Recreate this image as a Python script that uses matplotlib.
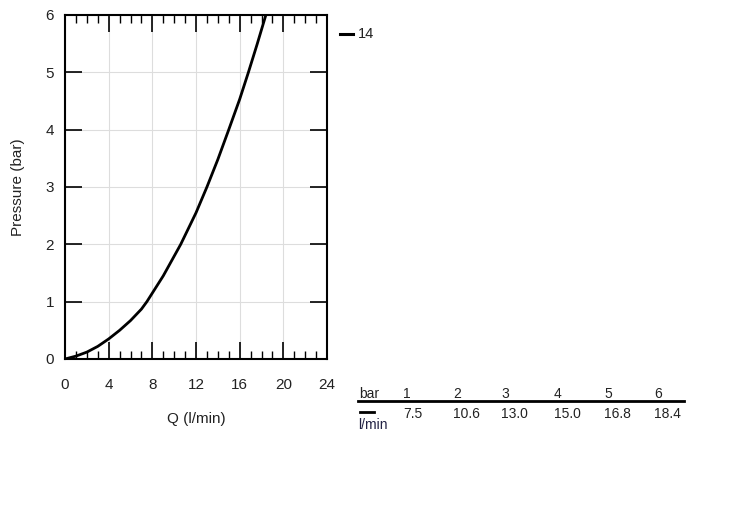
"""Pressure drop vs flow curve with a small value table."""

import matplotlib

matplotlib.use("Agg")

import matplotlib.pyplot as plt
from matplotlib.ticker import MultipleLocator

# curve (Q in l/min, pressure in bar)
flow = [0.0, 1.0, 2.0, 3.0, 4.0, 5.0, 6.0, 7.0, 7.5, 8.2, 9.0, 10.6, 12.0, 13.0, 14.0, 15.0, 16.0, 16.8, 17.6, 18.4]
pressure = [0.0, 0.05, 0.12, 0.22, 0.35, 0.50, 0.67, 0.87, 1.0, 1.21, 1.45, 2.0, 2.55, 3.0, 3.48, 4.0, 4.53, 5.0, 5.49, 6.0]

# table values
table_bar = ["1", "2", "3", "4", "5", "6"]
table_flow = ["7.5", "10.6", "13.0", "15.0", "16.8", "18.4"]
series_label = "14"

plt.rcParams["font.family"] = ["Liberation Sans", "DejaVu Sans"]
TEXT = "#222222"

fig = plt.figure(figsize=(7.3, 5.07), dpi=100)
ax = fig.add_axes([65 / 730, 1 - 359 / 507, (327 - 65) / 730, (359 - 15) / 507])

ax.plot(flow, pressure, color="black", lw=2.0, solid_joinstyle="round")

ax.set_xlim(0, 24)
ax.set_ylim(0, 6)
ax.xaxis.set_major_locator(MultipleLocator(4))
ax.xaxis.set_minor_locator(MultipleLocator(1))
ax.yaxis.set_major_locator(MultipleLocator(1))
ax.tick_params(which="major", direction="in", length=12, width=1.2, top=True, right=True,
               labelsize=11, labelcolor=TEXT)
ax.tick_params(axis="x", which="major", pad=14)
ax.tick_params(axis="y", which="major", pad=8)
ax.tick_params(which="minor", direction="in", length=6, width=1.0, top=True, right=False, left=False)
ax.tick_params(axis="x", which="minor", bottom=True, top=True)
ax.grid(which="major", color="#dddddd", lw=0.8)
for s in ax.spines.values():
    s.set_linewidth(1.5)

ax.set_xlabel("Q (l/min)", fontsize=11, color=TEXT, labelpad=14)
ax.set_ylabel("Pressure (bar)", fontsize=11, color=TEXT, labelpad=15)

# legend marker
fig.add_artist(plt.Line2D([340 / 730, 353 / 730], [1 - 34 / 507] * 2, color="black", lw=2.2))
fig.text(358 / 730, 1 - 34 / 507, series_label, fontsize=10.5, color=TEXT, va="center")

# value table
col_x = [403, 453, 501, 554, 604, 654]
fig.text(359 / 730, 1 - 394 / 507, "bar", fontsize=10, color=TEXT, va="center")
fig.add_artist(plt.Line2D([358 / 730, 684 / 730], [1 - 401 / 507] * 2, color="black", lw=2.0))
fig.add_artist(plt.Line2D([360 / 730, 374 / 730], [1 - 412 / 507] * 2, color="black", lw=2.0))
fig.text(358 / 730, 1 - 425 / 507, "l/min", fontsize=10, color="#222244", va="center")
for x, b, q in zip(col_x, table_bar, table_flow):
    fig.text(x / 730, 1 - 394 / 507, b, fontsize=10, color=TEXT, va="center")
    fig.text(x / 730, 1 - 414 / 507, q, fontsize=10, color=TEXT, va="center")

fig.savefig("out.png", dpi=100)
